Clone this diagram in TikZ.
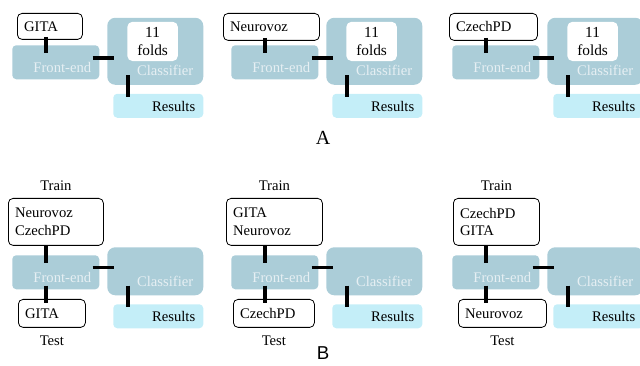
\documentclass[tikz,border=0pt]{standalone}
\usepackage{fontspec}
\setmainfont{Liberation Serif}
\newfontfamily\panelsans{Liberation Sans}
\usepackage{tikz}
\usetikzlibrary{positioning}

\definecolor{blockblue}{HTML}{ABCDD8}
\definecolor{resblue}{HTML}{C4EEF8}
\definecolor{blocktext}{HTML}{E6EFF3}

\tikzset{
  block/.style={fill=blockblue, rounded corners=3pt, anchor=north west, inner sep=0pt},
  blbl/.style={anchor=south east, text=blocktext, inner xsep=6pt, inner ysep=4.8pt},
  clbl/.style={anchor=south east, text=blocktext, inner xsep=7.5pt, inner ysep=6.7pt},
  fe/.style={block, minimum width=65.25pt, minimum height=25.5pt,
    label={[blbl]south east:Front-end}},
  clfA/.style={block, rounded corners=6pt, minimum width=72pt, minimum height=50.25pt,
    label={[clbl]south east:Classifier}},
  clfB/.style={block, rounded corners=6pt, minimum width=72pt, minimum height=36pt,
    label={[clbl]south east:Classifier}},
  folds/.style={fill=white, rounded corners=4pt, anchor=north west, align=center,
    inner sep=0pt, minimum width=38pt, minimum height=29.5pt,
    font=\fontsize{11.5pt}{13.8pt}\selectfont},
  res/.style={block, fill=resblue, minimum width=67.5pt, minimum height=18pt,
    label={[blbl, text=black]south east:Results}},
  dset/.style={draw=black, line width=0.6pt, fill=white, rounded corners=3.5pt,
    anchor=north west, align=left, inner xsep=5pt, inner ysep=0pt},
  tag/.style={inner sep=3.33pt},
  panel/.style={inner sep=0.5pt},
  link/.style={line width=2.3pt},
  tofe/.style={link, shorten <=-2.25pt, shorten >=-6pt},
  tocl/.style={link, shorten <=-5.25pt, shorten >=-5.25pt},
  tores/.style={link, shorten <=-7.5pt, shorten >=-2.6pt},
  tote/.style={link, shorten <=-3pt, shorten >=-3pt}
}

\begin{document}
\begin{tikzpicture}[x=0.75pt, y=-0.75pt, font=\fontsize{11pt}{13.3pt}\selectfont]
    \useasboundingbox (0,0) rectangle (640,366);

    % A: one data set, 11 folds
    \node [dset, text width=38.75pt, minimum height=19.5pt] (ds1) at (17,13) {GITA};
    \node [dset, text width=62pt, minimum height=20.25pt] (ds2) at (223,13) {Neurovoz};
    \node [dset, text width=56pt, minimum height=20.25pt] (ds3) at (449,13) {CzechPD};
    \node [fe] (fe1) at (12,45) {};
    \node [fe] (fe2) at (231,45) {};
    \node [fe] (fe3) at (452,45) {};
    \node [clfA] (clf1) at (107,17.5) {};
    \node [clfA] (clf2) at (326,17.5) {};
    \node [clfA] (clf3) at (547,17.5) {};
    \node [folds] (fo1) at (127,21.5) {11\\folds};
    \node [folds] (fo2) at (346,21.5) {11\\folds};
    \node [folds] (fo3) at (567,21.5) {11\\folds};
    \node [res] (res1) at (113,93.5) {};
    \node [res] (res2) at (332,93.5) {};
    \node [res] (res3) at (553,93.5) {};
    \node [panel, font=\fontsize{15pt}{18pt}\selectfont] (labA) at (323,137.5) {A};

    % B: train on two, test on the third
    \node [dset, text width=61.25pt, minimum height=35.25pt] (tr4) at (8,198) {Neurovoz\\CzechPD};
    \node [dset, text width=62pt, minimum height=35.25pt] (tr5) at (226,198) {GITA\\Neurovoz};
    \node [dset, text width=54.5pt, minimum height=35.25pt] (tr6) at (453,198) {CzechPD\\GITA};
    \node [tag, above=2pt of tr4] (trl4) {Train};
    \node [tag, above=2pt of tr5] (trl5) {Train};
    \node [tag, above=2pt of tr6] (trl6) {Train};
    \node [fe] (fe4) at (12,255) {};
    \node [fe] (fe5) at (231,255) {};
    \node [fe] (fe6) at (452,255) {};
    \node [clfB] (clf4) at (107,247) {};
    \node [clfB] (clf5) at (326,247) {};
    \node [clfB] (clf6) at (547,247) {};
    \node [res] (res4) at (113,304) {};
    \node [res] (res5) at (332,304) {};
    \node [res] (res6) at (553,304) {};
    \node [dset, text width=40.25pt, minimum height=21pt] (te4) at (18,299) {GITA};
    \node [dset, text width=50.75pt, minimum height=21pt] (te5) at (233,299) {CzechPD};
    \node [dset, text width=56pt, minimum height=21pt] (te6) at (458,299) {Neurovoz};
    \node [tag, below=2.4pt of te4] (tel4) {Test};
    \node [tag, below=2.4pt of te5] (tel5) {Test};
    \node [tag, below=2.4pt of te6] (tel6) {Test};
    \node [panel, font=\panelsans\fontsize{14pt}{17pt}\selectfont] (labB) at (323,353) {B};

    % connectors
    \coordinate (v1) at ([xshift=25.5pt]fe1.north west);
    \coordinate (v2) at ([xshift=25.5pt]fe2.north west);
    \coordinate (v3) at ([xshift=25.5pt]fe3.north west);
    \coordinate (v4) at ([xshift=25.5pt]fe4.north west);
    \coordinate (v5) at ([xshift=25.5pt]fe5.north west);
    \coordinate (v6) at ([xshift=25.5pt]fe6.north west);
    \coordinate (h1) at ([yshift=-9.75pt]fe1.north west);
    \coordinate (h2) at ([yshift=-9.75pt]fe2.north west);
    \coordinate (h3) at ([yshift=-9.75pt]fe3.north west);
    \coordinate (h4) at ([yshift=-9.4pt]fe4.north west);
    \coordinate (h5) at ([yshift=-9.4pt]fe5.north west);
    \coordinate (h6) at ([yshift=-9.4pt]fe6.north west);
    \coordinate (w1) at ([xshift=15.75pt]clf1.south west);
    \coordinate (w2) at ([xshift=15.75pt]clf2.south west);
    \coordinate (w3) at ([xshift=15.75pt]clf3.south west);
    \coordinate (w4) at ([xshift=15.75pt]clf4.south west);
    \coordinate (w5) at ([xshift=15.75pt]clf5.south west);
    \coordinate (w6) at ([xshift=15.75pt]clf6.south west);

    \draw [tofe] (ds1.south -| v1) -- (fe1.north -| v1);
    \draw [tofe] (ds2.south -| v2) -- (fe2.north -| v2);
    \draw [tofe] (ds3.south -| v3) -- (fe3.north -| v3);
    \draw [tofe, shorten <=0pt] (tr4.south -| v4) -- (fe4.north -| v4);
    \draw [tofe, shorten <=0pt] (tr5.south -| v5) -- (fe5.north -| v5);
    \draw [tofe, shorten <=0pt] (tr6.south -| v6) -- (fe6.north -| v6);
    \draw [tote] (fe4.south -| v4) -- (te4.north -| v4);
    \draw [tote] (fe5.south -| v5) -- (te5.north -| v5);
    \draw [tote] (fe6.south -| v6) -- (te6.north -| v6);
    \foreach \i in {1,...,6}
        \draw [tocl] (fe\i.east |- h\i) -- (clf\i.west |- h\i);
    \foreach \i in {1,...,6}
        \draw [tores] (clf\i.south -| w\i) -- (res\i.north -| w\i);
\end{tikzpicture}
\end{document}
